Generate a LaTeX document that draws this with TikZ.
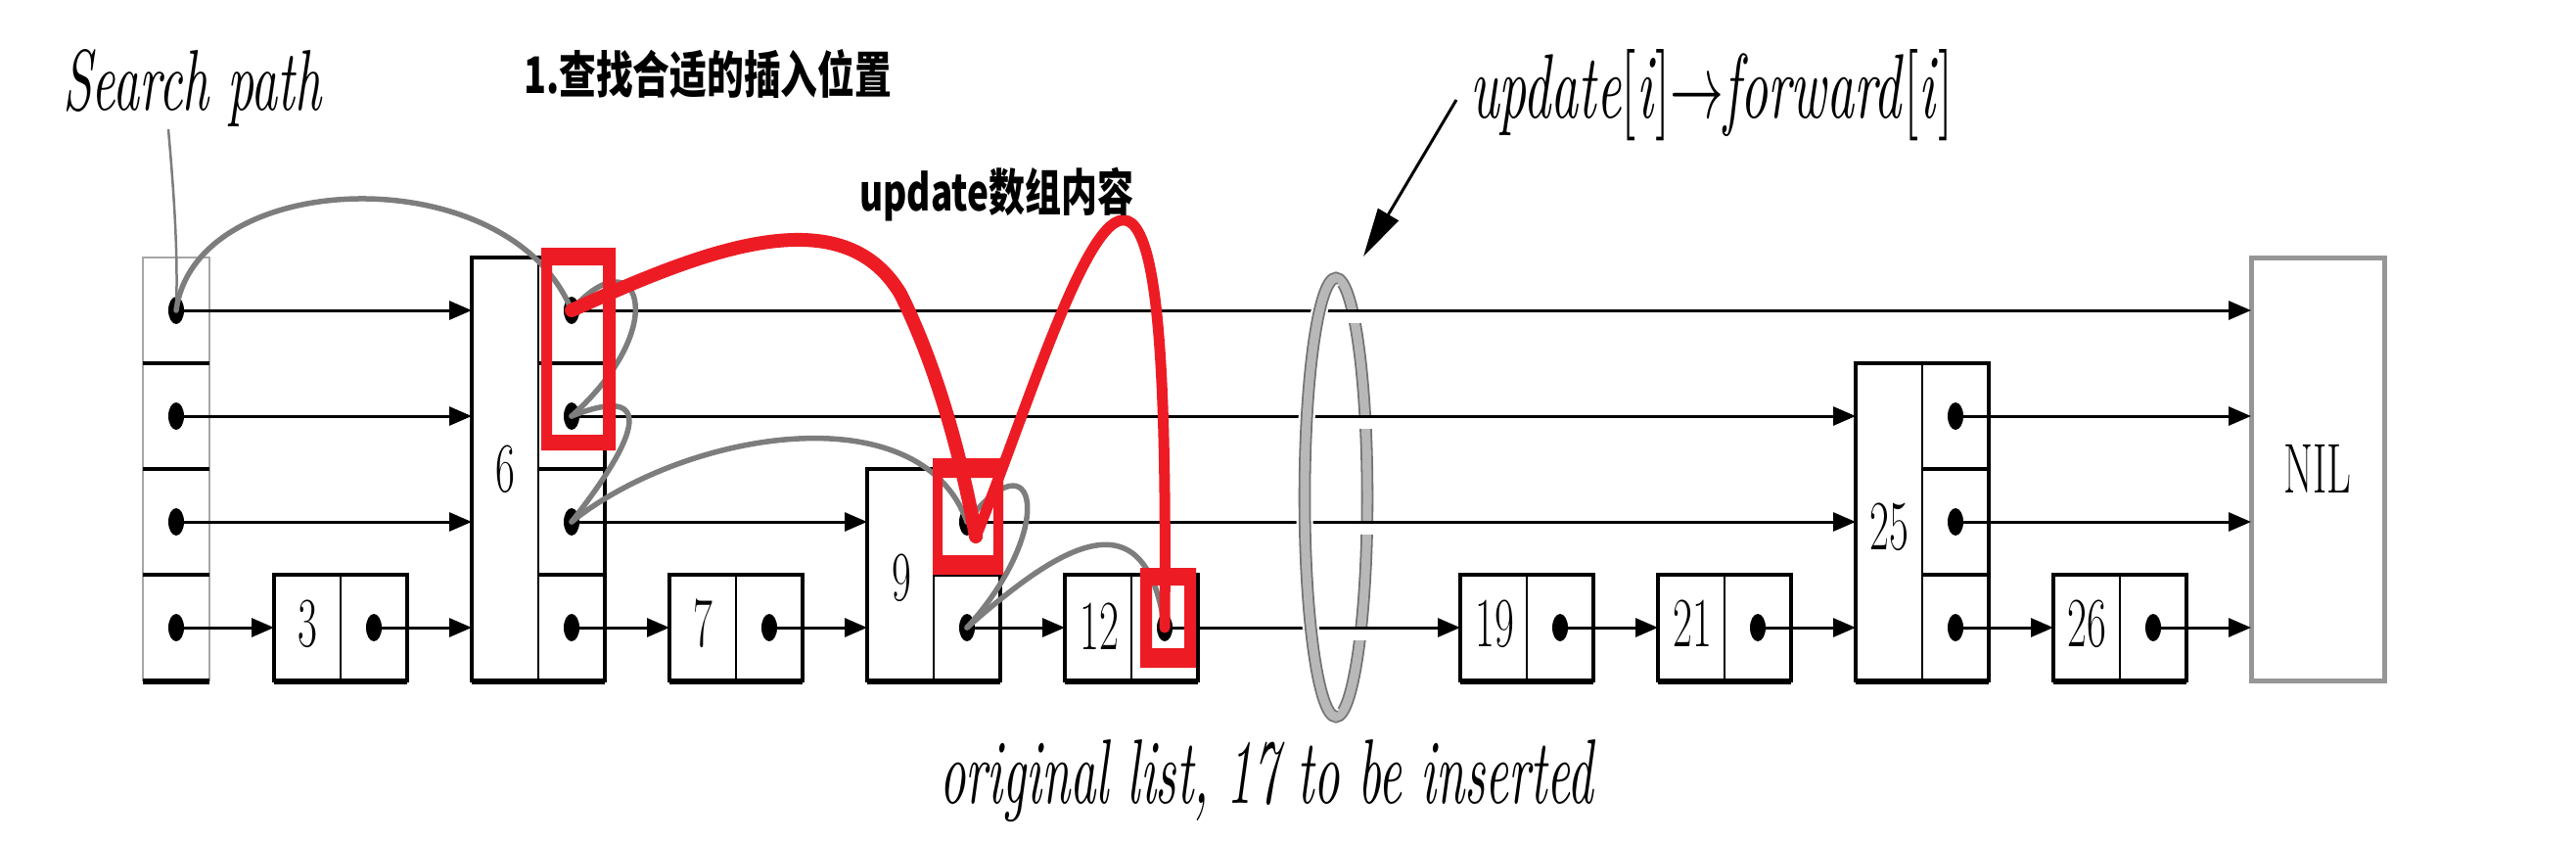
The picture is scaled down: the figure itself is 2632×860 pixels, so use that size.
\documentclass[tikz,border=0pt]{standalone}
\usepackage{fontspec}
\usepackage{graphicx}
\newfontfamily\cjk{Noto Sans CJK SC}
\usetikzlibrary{arrows.meta,shapes.geometric}
\definecolor{mkred}{RGB}{237,28,36}
\definecolor{pathgray}{RGB}{125,125,125}
\definecolor{nilgray}{RGB}{150,150,150}
\newcommand\numlab[1]{\scalebox{0.6}[1]{\fontsize{72}{72}\selectfont #1}}
\begin{document}
\begin{tikzpicture}[x=1pt,y=-1pt,
  cellbox/.style={draw=black, line width=4, inner sep=0, outer sep=0, minimum width=136},
  divh/.style={draw=black, line width=3.2},
  divv/.style={draw=black, line width=2},
  dot/.style={ellipse, fill=black, minimum width=16, minimum height=28, inner sep=0, outer sep=0},
  arr/.style={draw=black, line width=3, -{Triangle[length=23pt,width=19pt]}},
  spath/.style={draw=pathgray, line width=5.5, line cap=round},
  mk/.style={draw=mkred, line cap=round, line join=round},
  num/.style={inner sep=0, outer sep=0},
  ring/.style={draw=black!55, line width=1.8, double=black!28, double distance=9},
]
\useasboundingbox (0,0) rectangle (2632,860);
\fill[white] (0,0) rectangle (2632,860);

% ring (behind on the right side)
\coordinate (rc) at (1365,508);
\draw[ring] (rc) ellipse[x radius=32, y radius=224];
\fill[white] (1368,319) rectangle (1396,330);
\fill[white] (1381,427) rectangle (1409,438);
\fill[white] (1383,535) rectangle (1411,546);
\fill[white] (1377,643) rectangle (1405,654);

% boxes
\node[cellbox, draw=gray!70, line width=2.5, minimum width=68, minimum height=432] (hdr) at (180,479) {};
\node[cellbox, minimum height=108] (n3) at (348,641) {};
\node[cellbox, minimum height=432] (n6) at (550,479) {};
\node[cellbox, minimum height=108] (n7) at (752,641) {};
\node[cellbox, minimum height=216] (n9) at (954,587) {};
\node[cellbox, minimum height=108] (n12) at (1156,641) {};
\node[cellbox, minimum height=108] (n19) at (1560,641) {};
\node[cellbox, minimum height=108] (n21) at (1762,641) {};
\node[cellbox, minimum height=324] (n25) at (1964,533) {};
\node[cellbox, minimum height=108] (n26) at (2166,641) {};
\node[cellbox, draw=nilgray, line width=5, minimum height=432] (nil) at (2368,479) {\numlab{NIL}};

\foreach \k in {1,2,3} \draw[divh] (hdr.north west) ++(0,108*\k) -- ++(68,0);
\foreach \k in {1,2,3} \draw[divh] (n6.north) ++(0,108*\k) -- ++(68,0);
\draw[divh] (n9.north) ++(0,108) -- ++(68,0);
\foreach \k in {1,2} \draw[divh] (n25.north) ++(0,108*\k) -- ++(68,0);
\foreach \n in {n3,n6,n7,n9,n12,n19,n21,n25,n26} \draw[divv] (\n.north) -- (\n.south);
\foreach \n in {hdr,n3,n6,n7,n9,n12,n19,n21,n25,n26}
  \draw[line width=6] ([yshift=-1pt]\n.south west) -- ([yshift=-1pt]\n.south east);

% labels
\node[num] (l3) at (314,637) {\numlab{3}};
\node[num] (l6) at (516,479) {\numlab{6}};
\node[num] (l7) at (718,637) {\numlab{7}};
\node[num] (l9) at (921,590) {\numlab{9}};
\node[num] (l12) at (1123,640) {\numlab{12}};
\node[num] (l19) at (1527,637) {\numlab{19}};
\node[num] (l21) at (1729,637) {\numlab{21}};
\node[num] (l25) at (1930,538) {\numlab{25}};
\node[num] (l26) at (2132,637) {\numlab{26}};

% dots
\node[dot] (h1) at (180,317) {};
\node[dot] (h2) at (180,425) {};
\node[dot] (h3) at (180,533) {};
\node[dot] (h4) at (180,641) {};
\node[dot] (d3) at (382,641) {};
\node[dot] (d6a) at (584,317) {};
\node[dot] (d6b) at (584,425) {};
\node[dot] (d6c) at (584,533) {};
\node[dot] (d6d) at (584,641) {};
\node[dot] (d7) at (786,641) {};
\node[dot] (d9c) at (988,533) {};
\node[dot] (d9d) at (988,641) {};
\node[dot] (d12) at (1190,641) {};
\node[dot] (d19) at (1594,641) {};
\node[dot] (d21) at (1796,641) {};
\node[dot] (d25b) at (1998,425) {};
\node[dot] (d25c) at (1998,533) {};
\node[dot] (d25d) at (1998,641) {};
\node[dot] (d26) at (2200,641) {};

% arrows
\draw[arr] (h1.center) -- (h1 -| n6.west);
\draw[arr] (d6a.center) -- (d6a -| nil.west);
\draw[arr] (h2.center) -- (h2 -| n6.west);
\draw[arr] (d6b.center) -- (d6b -| n25.west);
\draw[arr] (d25b.center) -- (d25b -| nil.west);
\draw[arr] (h3.center) -- (h3 -| n6.west);
\draw[arr] (d6c.center) -- (d6c -| n9.west);
\draw[arr] (d9c.center) -- (d9c -| n25.west);
\draw[arr] (d25c.center) -- (d25c -| nil.west);
\draw[arr] (h4.center) -- (h4 -| n3.west);
\draw[arr] (d3.center) -- (d3 -| n6.west);
\draw[arr] (d6d.center) -- (d6d -| n7.west);
\draw[arr] (d7.center) -- (d7 -| n9.west);
\draw[arr] (d9d.center) -- (d9d -| n12.west);
\draw[arr] (d12.center) -- (d12 -| n19.west);
\draw[arr] (d19.center) -- (d19 -| n21.west);
\draw[arr] (d21.center) -- (d21 -| n25.west);
\draw[arr] (d25d.center) -- (d25d -| n26.west);
\draw[arr] (d26.center) -- (d26 -| nil.west);

% ring, left side in front
\draw[white, line width=17] (rc) ++(0,-224) arc[start angle=270, end angle=90, x radius=32, y radius=224];
\draw[ring] (rc) ++(0,-224) arc[start angle=270, end angle=90, x radius=32, y radius=224];

% search path
\coordinate (splead) at (172,132);
\draw[draw=pathgray, line width=2.5] (splead) .. controls (178,200) and (182,260) .. (h1.center);
\draw[spath] (h1.center) .. controls (200,170) and (520,160) .. (d6a.center);
\draw[spath] (d6a.center) .. controls (650,240) and (690,330) .. (d6b.center);
\draw[spath] (d6b.center) .. controls (660,395) and (665,430) .. (d6c.center);
\draw[spath] (d6c.center) .. controls (700,440) and (940,400) .. (d9c.center);
\draw[spath] (d9c.center) .. controls (1060,440) and (1080,540) .. (d9d.center);
\draw[spath] (d9d.center) .. controls (1080,560) and (1170,500) .. (d12.center);

% red annotations
\fill[mkred, even odd rule] (553,253) rectangle (629,460) (564,271) rectangle (616,444);
\fill[mkred, even odd rule] (953,468) rectangle (1025,587) (963,488) rectangle (1015,567);
\fill[mkred, even odd rule] (1165,580) rectangle (1222,682) (1177,598) rectangle (1210,662);
\coordinate (vbot) at (997,548);
\draw[mk, line width=14] (d6a.center) .. controls (720,255) and (860,200) .. (920,300) .. controls (960,380) and (985,480) .. (vbot);
\draw[mk, line width=11] (vbot) .. controls (1050,420) and (1120,180) .. (1160,232) .. controls (1185,265) and (1192,400) .. (d12.center);

% texts
\node[anchor=base west, inner sep=0] (sp) at (64,112) {\resizebox{264pt}{62pt}{\itshape Search path}};
\node[anchor=west, inner sep=0] (title) at (535,75) {\resizebox*{376pt}{50pt}{\cjk\bfseries 1.查找合适的插入位置}};
\node[anchor=west, inner sep=0] (updlab) at (878,199) {\resizebox*{280pt}{55pt}{\cjk\bfseries update数组内容}};
\node[anchor=base west, inner sep=0] (ud) at (1502,120) {\resizebox{493pt}{70pt}{\textit{update}[\textit{i}]$\rightarrow$\textit{forward}[\textit{i}]}};
\node[anchor=base west, inner sep=0] (orig) at (960,820) {\resizebox{668pt}{65pt}{\itshape original list, 17 to be inserted}};
\coordinate (udstart) at (1488,102);
\coordinate (udtip) at (1393,262);
\draw[line width=3, -{Triangle[length=50pt,width=24pt]}] (udstart) -- (udtip);
\end{tikzpicture}
\end{document}
